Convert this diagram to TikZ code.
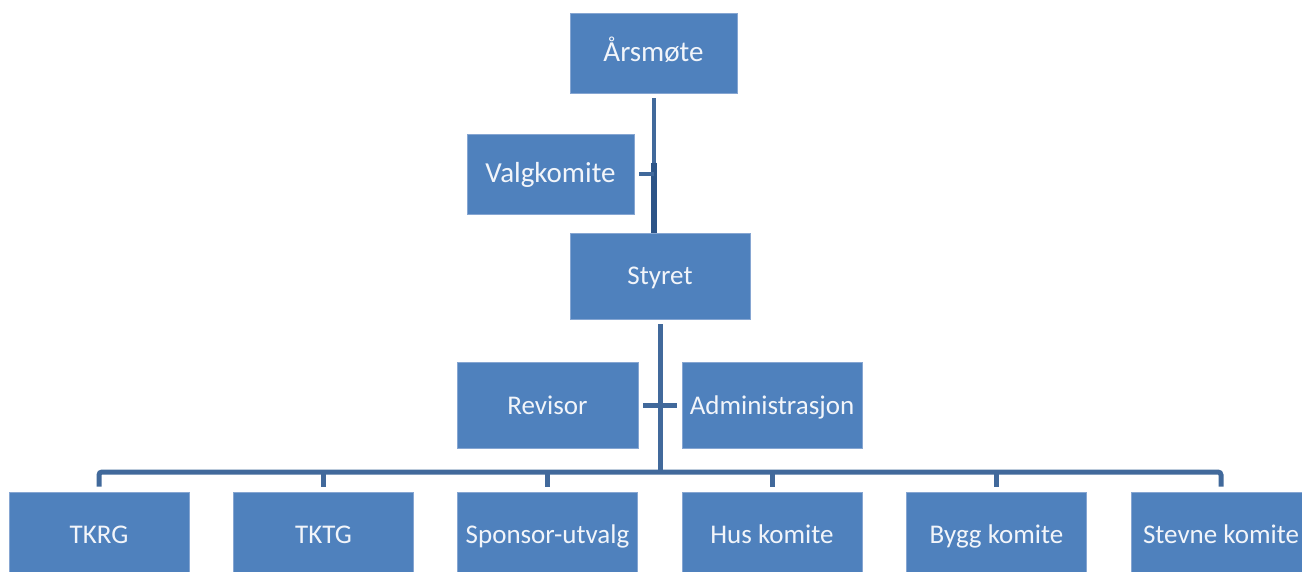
\documentclass[tikz,border=0pt]{standalone}
\usepackage{fontspec}
\setmainfont{Carlito}
\definecolor{boxblue}{HTML}{4F81BD}
\definecolor{boxedge}{HTML}{86A6D2}
\definecolor{linkblue}{HTML}{41699B}
\definecolor{linkdark}{HTML}{2C5487}
\definecolor{txtwhite}{HTML}{F2F5FA}
\tikzset{
  orgbox/.style={rectangle, fill=boxblue, draw=boxedge, line width=0.8pt, inner sep=0pt,
    text=txtwhite, font=\fontsize{27}{32}\selectfont, text height=21pt, text depth=3pt,
    minimum width=180pt, minimum height=86pt},
  bigbox/.style={orgbox, minimum width=167pt, minimum height=80pt,
    font=\fontsize{29}{34}\selectfont, text height=22pt, text depth=4pt},
  conn/.style={draw=linkblue, line width=5pt},
  thinconn/.style={draw=linkblue, line width=4pt},
  thickconn/.style={draw=linkdark, line width=6pt}
}
\begin{document}
\begin{tikzpicture}[x=1pt,y=-1pt]
\useasboundingbox (0,0) rectangle (1302,572);
\clip (0,0) rectangle (1302,572);
\fill[white] (0,0) rectangle (1302,572);
% nodes
\node[bigbox] (ars) at (653.5,53) {Årsmøte};
\node[bigbox] (val) at (550.5,174) {Valgkomite};
\node[orgbox] (sty) at (660,276) {Styret};
\node[orgbox, minimum width=181pt] (rev) at (547.5,405) {Revisor};
\node[orgbox] (adm) at (772,405) {Administrasjon};
\node[orgbox, minimum height=85pt] (tkrg) at (99,534.5) {TKRG};
\node[orgbox, minimum height=85pt] (tktg) at (323.5,534.5) {TKTG};
\node[orgbox, minimum height=85pt] (spon) at (547.5,534.5) {Sponsor-utvalg};
\node[orgbox, minimum height=85pt] (hus) at (772,534.5) {Hus komite};
\node[orgbox, minimum height=85pt] (bygg) at (996.5,534.5) {Bygg komite};
\node[orgbox, minimum height=85pt] (stev) at (1221,534.5) {Stevne komite};
\coordinate (bus) at (659,472);
% connectors
\draw[thinconn] ([yshift=-5pt]ars.south) -- (ars.south |- sty.north);
\draw[thickconn] (ars.south |- val.north) ++(0,29) -- (ars.south |- sty.north);
\draw[thinconn] ([xshift=5pt]val.east) -- (val.east -| ars.south);
\draw[conn] ([yshift=-5pt]sty.south) -- (sty.south |- bus);
\draw[conn] ([xshift=5pt]rev.east) -- ([xshift=-5pt]adm.west);
\draw[conn, rounded corners=3pt] ([yshift=5pt]tkrg.north) |- (bus) -| ([yshift=5pt]stev.north);
\foreach \n in {tktg,spon,hus,bygg}{
  \draw[conn] ([yshift=5pt]\n.north) -- (\n.north |- bus);
}
\end{tikzpicture}
\end{document}
